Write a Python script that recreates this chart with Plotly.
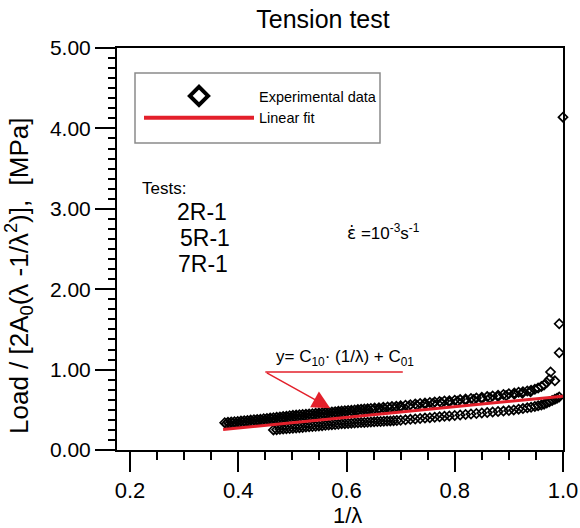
import plotly.graph_objects as go

# ---------------- data ----------------
upper_x = [0.375,0.381,0.387,0.393,0.399,0.405,0.411,0.417,0.423,0.429,0.435,0.441,0.447,0.453,0.459,
           0.465,0.471,0.477,0.483,0.489,0.495,0.501,0.507,0.513,0.519,0.525,0.531,0.537,0.543,0.549,
           0.555,0.561,0.567,0.573,0.579,0.585,0.591,0.597,0.603,0.609,0.615,0.621,0.627,0.633,0.639,
           0.645,0.652,0.660,0.668,0.676,0.684,0.692,0.700,0.709,0.718,0.727,0.736,0.745,0.754,0.763,
           0.772,0.781,0.790,0.800,0.810,0.820,0.830,0.840,0.850,0.860,0.870,0.880,0.890,0.900,0.910,
           0.918,0.926,0.934,0.941,0.948,0.954,0.960,0.965,0.970,0.975,0.977,0.985,0.993,0.993,1.000]
upper_y = [0.340,0.344,0.348,0.352,0.356,0.360,0.364,0.368,0.372,0.376,0.380,0.384,0.388,0.392,0.397,
           0.402,0.407,0.411,0.416,0.421,0.426,0.431,0.434,0.438,0.442,0.445,0.449,0.452,0.456,0.459,
           0.463,0.467,0.470,0.474,0.477,0.481,0.485,0.488,0.492,0.495,0.499,0.503,0.506,0.510,0.513,
           0.517,0.521,0.526,0.531,0.536,0.540,0.545,0.550,0.557,0.564,0.572,0.579,0.586,0.592,0.598,
           0.603,0.609,0.614,0.620,0.627,0.634,0.641,0.648,0.655,0.664,0.673,0.682,0.691,0.700,0.710,
           0.718,0.726,0.734,0.744,0.755,0.770,0.790,0.810,0.840,0.880,0.970,0.860,1.210,1.570,4.140]

mid_x = [0.378,0.384,0.390,0.396,0.402,0.408,0.414,0.420,0.426,0.432,0.438,0.444,0.450,0.456,0.462,
         0.468,0.474,0.480,0.486,0.492,0.498,0.504,0.510,0.516,0.522,0.528,0.534,0.540,0.546,0.552,
         0.558,0.564,0.570,0.576,0.582,0.588,0.594,0.600,0.610,0.620,0.630,0.640,0.650,0.660,0.670,
         0.680,0.690,0.700,0.715,0.730,0.745,0.760,0.775,0.790,0.805,0.820,0.835,0.850,0.865,0.880,
         0.895,0.910,0.925,0.940]
mid_y = [0.324,0.328,0.332,0.336,0.340,0.344,0.348,0.352,0.356,0.360,0.364,0.368,0.372,0.377,0.382,
         0.386,0.391,0.396,0.401,0.406,0.410,0.414,0.418,0.422,0.425,0.429,0.432,0.436,0.440,0.443,
         0.447,0.450,0.454,0.458,0.461,0.465,0.468,0.472,0.478,0.484,0.490,0.496,0.502,0.508,0.514,
         0.520,0.526,0.532,0.544,0.556,0.568,0.578,0.587,0.596,0.605,0.616,0.627,0.637,0.650,0.664,
         0.677,0.692,0.707,0.724]

lower_x = [0.465,0.471,0.477,0.483,0.489,0.495,0.501,0.507,0.513,0.519,0.525,0.531,0.537,0.543,0.549,
           0.555,0.561,0.567,0.573,0.579,0.585,0.591,0.597,0.603,0.609,0.615,0.621,0.627,0.633,0.639,
           0.645,0.651,0.657,0.663,0.669,0.675,0.681,0.687,0.693,0.700,0.709,0.718,0.727,0.736,0.745,
           0.754,0.763,0.772,0.781,0.790,0.800,0.810,0.820,0.830,0.840,0.850,0.860,0.870,0.880,0.890,
           0.900,0.909,0.918,0.926,0.934,0.941,0.948,0.954,0.960,0.965,0.970,0.975,0.980,0.985,0.989,0.993]
lower_y = [0.250,0.253,0.257,0.260,0.264,0.267,0.271,0.274,0.278,0.281,0.285,0.289,0.292,0.296,0.299,
           0.303,0.307,0.310,0.314,0.317,0.321,0.325,0.328,0.331,0.334,0.336,0.338,0.341,0.343,0.346,
           0.348,0.350,0.353,0.355,0.358,0.360,0.362,0.365,0.367,0.370,0.375,0.381,0.386,0.392,0.397,
           0.402,0.408,0.413,0.419,0.424,0.430,0.436,0.442,0.448,0.454,0.460,0.466,0.472,0.478,0.484,
           0.490,0.499,0.508,0.515,0.524,0.532,0.542,0.550,0.560,0.570,0.585,0.600,0.615,0.630,0.645,0.660]

fit_x = [0.372, 1.0]
fit_y = [0.255, 0.670]

x_tick_vals = [0.2, 0.4, 0.6, 0.8, 1.0]
x_tick_text = ["0.2", "0.4", "0.6", "0.8", "1.0"]
y_tick_vals = [0, 1, 2, 3, 4, 5]
y_tick_text = ["0.00", "1.00", "2.00", "3.00", "4.00", "5.00"]

RED = "#e3202b"
FONT = "Liberation Sans, Arial, sans-serif"

# page geometry (pixels); the page body margin is removed below
W, H = 580, 528
L, R, T, B = 117, 563, 48, 450

def px_to_paper(px, py):
    return (px - L) / (R - L), 1 - (py - T) / (B - T)

fig = go.Figure()

marker_style = dict(symbol="diamond-open", size=7, color="black", line=dict(width=1.7, color="black"))
for xs, ys in ((upper_x, upper_y), (mid_x, mid_y), (lower_x, lower_y)):
    fig.add_trace(go.Scatter(x=xs, y=ys, mode="markers", marker=marker_style,
                             showlegend=False, cliponaxis=False))
fig.add_trace(go.Scatter(x=fit_x, y=fit_y, mode="lines", line=dict(color=RED, width=3),
                         showlegend=False))

# legend entries
fig.add_trace(go.Scatter(x=[None], y=[None], mode="markers", name="Experimental data",
                         marker=dict(symbol="diamond-open", size=14, color="black",
                                     line=dict(width=4, color="black"))))
fig.add_trace(go.Scatter(x=[None], y=[None], mode="lines", name="Linear fit",
                         line=dict(color=RED, width=4)))

axis_common = dict(showline=True, linecolor="black", linewidth=2, mirror=True,
                   showgrid=False, zeroline=False, ticks="outside", tickcolor="black",
                   tickwidth=2, ticklen=20, automargin=False)

fig.update_xaxes(range=[0.176, 1.0], tickvals=x_tick_vals, ticktext=x_tick_text,
                 tickfont=dict(family=FONT, size=22, color="black"),
                 minor=dict(dtick=0.05, tick0=0.2, ticks="outside", ticklen=8, tickwidth=2,
                            tickcolor="black", showgrid=False),
                 **axis_common)
fig.update_yaxes(range=[0, 5], tickvals=y_tick_vals, ticktext=y_tick_text,
                 tickfont=dict(family=FONT, size=21, color="black"),
                 minor=dict(dtick=0.125, tick0=0, ticks="outside", ticklen=7, tickwidth=2,
                            tickcolor="black", showgrid=False),
                 **axis_common)

lx, ly = px_to_paper(139, 80)
fig.update_layout(
    width=W, height=H,
    margin=dict(l=L, r=W - R, t=T, b=H - B),
    paper_bgcolor="white", plot_bgcolor="white",
    title=dict(text="Tension test", x=323 / W, xanchor="center",
               y=1 - 19 / H, yanchor="middle",
               font=dict(family=FONT, size=25, color="black")),
    legend=dict(x=lx, y=ly, xanchor="left", yanchor="top",
                bgcolor="rgba(0,0,0,0)", borderwidth=0,
                itemwidth=110, font=dict(family=FONT, size=14.5, color="black"),
                tracegroupgap=0),
    font=dict(family=FONT, color="black"),
)

# legend frame
x0, y0 = px_to_paper(135, 73)
x1, y1 = px_to_paper(380, 143)
fig.add_shape(type="rect", xref="paper", yref="paper", x0=x0, x1=x1, y0=y1, y1=y0,
              line=dict(color="#8a8a8a", width=1.5), fillcolor="white", layer="below")

texts = [
    ("Tests:", 140, 188, 17),
    ("2R-1", 175, 212, 23),
    ("5R-1", 178, 238, 23),
    ("7R-1", 176, 264, 23),
    ("<span style='font-family:DejaVu Sans'>ε̇</span> =10<sup>-3</sup>s<sup>-1</sup>", 345, 232, 17),
    ("y= C<sub>10</sub>· (1/λ) + C<sub>01</sub>", 274, 358, 17),
]
for t, px, py, fs in texts:
    ax_, ay_ = px_to_paper(px, py)
    fig.add_annotation(text=t, x=ax_, y=ay_, xref="paper", yref="paper", xanchor="left",
                       yanchor="middle", showarrow=False,
                       font=dict(family=FONT, size=fs, color="black"))

# axis titles
tx, ty = px_to_paper(347, 515)
fig.add_annotation(text="1/λ", x=tx, y=ty, xref="paper", yref="paper", xanchor="center",
                   yanchor="middle", showarrow=False, font=dict(family=FONT, size=22, color="black"))
yx, yy = px_to_paper(19, 276)
fig.add_annotation(text="Load / [2A<sub>0</sub>(λ -1/λ<sup>2</sup>)],  [MPa]", textangle=-90,
                   x=yx, y=yy, xref="paper", yref="paper", xanchor="center", yanchor="middle",
                   showarrow=False, font=dict(family=FONT, size=26, color="black"))

# underline + arrow for the fit equation
fig.add_shape(type="line", xref="x", yref="y", x0=0.45, x1=0.704, y0=0.97, y1=0.97,
              line=dict(color=RED, width=1.5))
fig.add_annotation(x=0.570, y=0.52, ax=0.45, ay=0.97, xref="x", yref="y", axref="x", ayref="y",
                   text="", showarrow=True, arrowhead=2, arrowsize=2.4, arrowwidth=1.5,
                   arrowcolor=RED)

fig.write_html("out.html", config={"displayModeBar": False},
               post_script="document.body.style.margin='0';document.body.style.overflow='hidden';")
